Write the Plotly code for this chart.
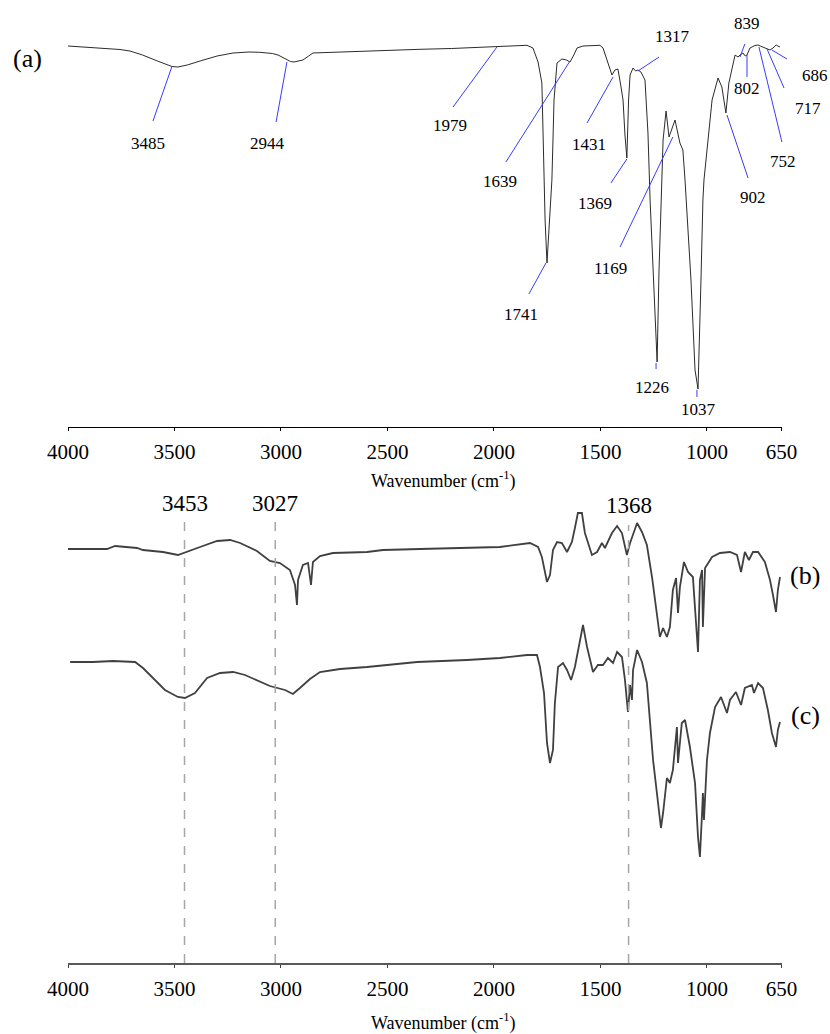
import plotly.graph_objects as go

# ---------------- data (wavenumber in cm-1, transmittance in arbitrary units) -------------
WN_A = [4000, 3850, 3756, 3709, 3650, 3580, 3512, 3484, 3440, 3380, 3300, 3225, 3150, 3099,
        3040, 3014, 2972, 2955, 2939, 2920, 2897, 2870, 2850, 2756, 2600, 2450, 2347, 2200,
        2100, 1986, 1900, 1845, 1817, 1793, 1775, 1770, 1760, 1751, 1742, 1728, 1723, 1718,
        1704, 1681, 1660, 1643, 1625, 1610, 1582, 1540, 1502, 1488, 1446, 1432, 1418, 1405,
        1394, 1385, 1376, 1368, 1361, 1347, 1335, 1324, 1310, 1291, 1277, 1267, 1253, 1234,
        1225, 1211, 1206, 1192, 1178, 1150, 1127, 1113, 1103, 1075, 1056, 1042, 1033, 1028,
        1019, 1014, 976, 962, 948, 930, 911, 897, 868, 854, 845, 831, 820, 812, 798, 775, 760,
        750, 718, 704, 690, 675, 667, 657]
T_A = [381, 379, 377.5, 376, 372, 366, 360.5, 360, 362, 366, 371, 374, 375, 374.7,
       373.5, 372, 367, 365.5, 365, 366, 367, 371, 374, 374.7, 376, 377, 377.7, 378.5,
       379.5, 380.3, 381.5, 381.7, 379, 365, 344, 294, 207, 164, 197, 247, 287, 327,
       364, 368, 367, 365, 372, 379, 381, 381.7, 381.7, 379, 352, 357, 358, 342,
       327, 292, 269, 327, 352, 359, 356, 357, 355, 347, 294, 227, 157, 65,
       157, 247, 287, 316, 290, 307, 284, 277, 247, 147, 57, 38, 97, 147,
       227, 247, 327, 339, 349, 340, 314, 344, 372, 370, 372, 374, 371, 372, 379, 381.5, 382,
       381, 378, 377, 379, 382, 381, 380]

WN_B = [4000, 3817, 3779, 3676, 3648, 3554, 3484, 3460, 3380, 3300, 3239, 3192, 3113, 3052,
        3005, 2958, 2934, 2925, 2920, 2897, 2873, 2859, 2850, 2817, 2756, 2596, 2521, 2347,
        2127, 1972, 1831, 1793, 1775, 1751, 1737, 1723, 1704, 1681, 1657, 1634, 1620, 1606,
        1587, 1573, 1540, 1516, 1493, 1479, 1446, 1422, 1399, 1376, 1361, 1328, 1305, 1282,
        1258, 1234, 1221, 1206, 1188, 1174, 1160, 1145, 1136, 1127, 1108, 1089, 1066, 1042,
        1033, 1023, 1019, 1009, 995, 976, 939, 892, 859, 840, 822, 803, 784, 760, 728, 704,
        690, 676, 667, 657]
T_B = [414, 414, 417, 415, 413, 411, 408, 410, 416, 422, 423, 420, 412, 402,
       400, 393, 378, 358, 383, 398, 400, 378, 401, 407, 410, 411, 413, 414,
       415, 416, 420, 416, 406, 381, 388, 413, 421, 420, 411, 421, 435, 450,
       450, 430, 408, 411, 420, 415, 430, 437, 430, 408, 420, 440, 431, 418,
       386, 343, 326, 335, 326, 336, 373, 385, 350, 376, 401, 391, 386, 311,
       383, 393, 336, 395, 400, 406, 410, 411, 408, 391, 411, 403, 411, 411, 401, 383,
       368, 351, 373, 386]

WN_C = [3990, 3883, 3789, 3685, 3648, 3601, 3545, 3484, 3451, 3404, 3347, 3286, 3225, 3169,
        3113, 3052, 2981, 2944, 2911, 2864, 2817, 2723, 2596, 2361, 2127, 1972, 1845, 1798,
        1784, 1765, 1751, 1737, 1723, 1714, 1699, 1676, 1657, 1638, 1620, 1582, 1563, 1535,
        1512, 1488, 1465, 1441, 1422, 1399, 1385, 1371, 1361, 1352, 1347, 1328, 1305, 1282,
        1253, 1230, 1216, 1206, 1188, 1174, 1160, 1141, 1136, 1118, 1103, 1080, 1056, 1042,
        1033, 1023, 1019, 1014, 1000, 986, 962, 934, 906, 892, 864, 840, 822, 789, 779, 760,
        737, 714, 695, 676, 667, 657]
T_C = [301, 301, 302, 301, 295, 285, 273, 266, 265, 270, 285, 290, 291, 288,
       283, 277, 273, 269, 275, 284, 291, 294, 296, 301, 303, 305, 308, 308,
       296, 270, 220, 200, 213, 260, 296, 300, 293, 283, 296, 338, 316, 291,
       298, 298, 305, 300, 311, 306, 283, 251, 278, 263, 293, 313, 301, 280,
       203, 160, 135, 150, 185, 180, 193, 236, 200, 240, 243, 216, 180, 126,
       106, 150, 170, 143, 203, 230, 256, 266, 250, 263, 271, 258, 275, 278, 270, 280,
       275, 253, 230, 216, 233, 241]

TICK_VALS = [4000, 3500, 3000, 2500, 2000, 1500, 1000, 650]
TICK_TEXT = ["4000", "3500", "3000", "2500", "2000", "1500", "1000", "650"]

PEAKS_A = ["3485", "2944", "1979", "1639", "1431", "1317", "1369", "1169", "1741",
           "1226", "1037", "902", "839", "802", "752", "717", "686"]
MARKED_BC = [3453, 3027, 1368]

assert len(WN_A) == len(T_A) and len(WN_B) == len(T_B) and len(WN_C) == len(T_C)

# ---------------- layout helpers ----------------
# leader geometry for panel (a): (tip wn, tip T, tail wn, tail T, label wn, label T)
LEADERS_A = [
    (3512, 360.5, 3601, 306, 3624, 284),
    (2972, 365, 3023, 305, 3061, 284),
    (1986, 380, 2192, 320, 2207, 301),
    (1643, 366, 1944, 265, 1972, 245),
    (1441, 350, 1563, 304, 1554, 283),
    (1324, 356, 1225, 370, 1164, 390),
    (1376, 268, 1451, 244, 1526, 224),
    (1160, 290, 1408, 180, 1455, 159),
    (1756, 164, 1836, 133, 1873, 112),
    (1239, 64, 1239, 58, 1258, 39),
    (1047, 37, 1047, 30, 1042, 18),
    (906, 312, 807, 249, 784, 229),
    (845, 370, 822, 383, 812, 403),
    (812, 372, 812, 350, 812, 338),
    (756, 380, 648, 285, 643, 265),
    (718, 378, 638, 339, 526, 319),
    (695, 377, 624, 368, 493, 351),
]

SERIF = "Liberation Serif"
W, H = 830, 1034
X_RANGE = [4000, 650]
X_DOMAIN = [68 / W, 781.5 / W]
TOP_RANGE = [0, 397]
BOT_RANGE = [0, 463]
TOP_DOMAIN = [(H - 427) / H, (H - 30) / H]
BOT_DOMAIN = [(H - 963) / H, (H - 500) / H]


def to_paper(v, rng, dom):
    """Map a data value through a linear axis (range -> domain) to paper fraction."""
    return dom[0] + (v - rng[0]) / (rng[1] - rng[0]) * (dom[1] - dom[0])


fig = go.Figure()
fig.add_trace(go.Scatter(x=WN_A, y=T_A, mode="lines", line=dict(color="#2b2b2b", width=1),
                         xaxis="x", yaxis="y", showlegend=False, hoverinfo="skip"))
fig.add_trace(go.Scatter(x=WN_B, y=T_B, mode="lines", line=dict(color="#404040", width=1.8),
                         xaxis="x2", yaxis="y2", showlegend=False, hoverinfo="skip"))
fig.add_trace(go.Scatter(x=WN_C, y=T_C, mode="lines", line=dict(color="#404040", width=1.8),
                         xaxis="x2", yaxis="y2", showlegend=False, hoverinfo="skip"))

annotations = []
shapes = []
for label, (tx, ty, ax, ay, lx, ly) in zip(PEAKS_A, LEADERS_A):
    shapes.append(dict(type="line", xref="paper", yref="paper",
                       x0=to_paper(tx, X_RANGE, X_DOMAIN), y0=to_paper(ty, TOP_RANGE, TOP_DOMAIN),
                       x1=to_paper(ax, X_RANGE, X_DOMAIN), y1=to_paper(ay, TOP_RANGE, TOP_DOMAIN),
                       line=dict(color="#3a3aff", width=1)))
    annotations.append(dict(x=to_paper(lx, X_RANGE, X_DOMAIN),
                            y=to_paper(ly, TOP_RANGE, TOP_DOMAIN),
                            xref="paper", yref="paper", text=label, showarrow=False,
                            font=dict(family=SERIF, size=17, color="black"),
                            xanchor="center", yanchor="middle"))

for wn in MARKED_BC:
    top = 441 if wn > 2000 else 438
    shapes.append(dict(type="line", xref="x2", yref="y2", x0=wn, x1=wn, y0=0, y1=top,
                       line=dict(color="#a6a6a6", width=1.5, dash="dash")))
    annotations.append(dict(x=wn, y=460 if wn > 2000 else 458, xref="x2", yref="y2",
                            text=str(wn), showarrow=False,
                            font=dict(family=SERIF, size=23, color="black"),
                            xanchor="center", yanchor="middle"))

for txt, px, py in [("(a)", 27, 58), ("(b)", 805, 575), ("(c)", 805, 715)]:
    annotations.append(dict(x=px / W, y=1 - py / H, xref="paper", yref="paper", text=txt,
                            showarrow=False, font=dict(family=SERIF, size=26, color="black"),
                            xanchor="center", yanchor="middle"))

for py in (480, 1022):
    annotations.append(dict(x=443 / W, y=1 - py / H, xref="paper", yref="paper",
                            text="Wavenumber (cm<sup>-1</sup>)", showarrow=False,
                            font=dict(family=SERIF, size=18, color="black"),
                            xanchor="center", yanchor="middle"))

xcommon = dict(range=X_RANGE, domain=X_DOMAIN, tickvals=TICK_VALS, ticktext=TICK_TEXT,
               showgrid=False, zeroline=False, ticks="outside", ticklen=3,
               tickfont=dict(family=SERIF, size=21, color="black"), ticklabelstandoff=3,
               showline=True, automargin=False)

fig.update_layout(
    width=W, height=H, margin=dict(l=0, r=0, t=0, b=0, pad=0, autoexpand=False),
    font=dict(family=SERIF, color="black"),
    paper_bgcolor="white", plot_bgcolor="white",
    xaxis=dict(**xcommon, anchor="y", linecolor="black", linewidth=1, tickcolor="black"),
    yaxis=dict(range=TOP_RANGE, domain=TOP_DOMAIN, visible=False, anchor="x", automargin=False),
    xaxis2=dict(**xcommon, anchor="y2", linecolor="#595959", linewidth=2, tickcolor="#404040"),
    yaxis2=dict(range=BOT_RANGE, domain=BOT_DOMAIN, visible=False, anchor="x2", automargin=False),
    annotations=annotations, shapes=shapes,
)

fig.write_html("out.html", config={"displayModeBar": False},
               post_script="document.body.style.margin='0';")
